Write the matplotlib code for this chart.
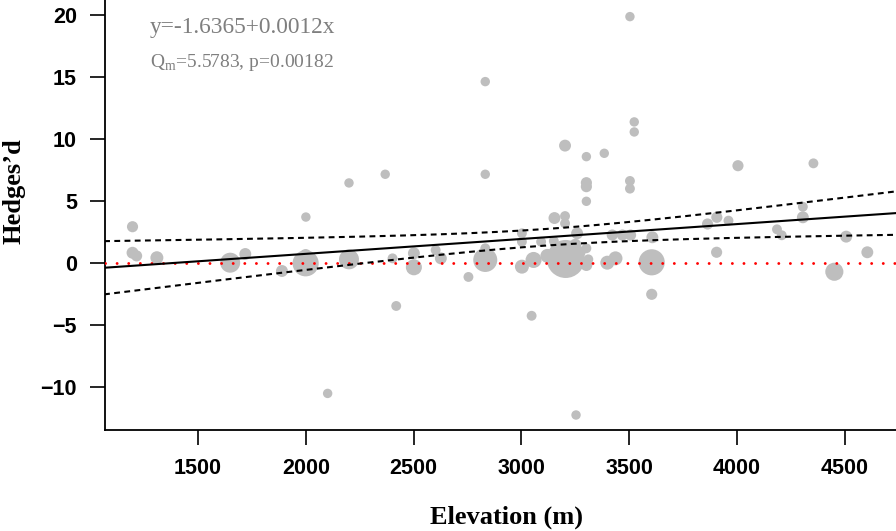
import numpy as np
import matplotlib
matplotlib.use("Agg")
import matplotlib.pyplot as plt

# ---------------- data ----------------
elevation = [1196, 1196, 1215, 1309, 1649, 1719, 1889, 2000, 1999, 1999,
             2101, 2200, 2200, 2368, 2402, 2419, 2501, 2501, 2602, 2626,
             2754, 2832, 2832, 2832, 2832, 3002, 3002, 3002, 3056, 3091,
             3153, 3202, 3202, 3202, 3205, 3258, 3301, 3384, 3301, 3301,
             3301, 3301, 3301, 3310, 3398, 3436, 3421, 3468, 3506, 3503,
             3523, 3523, 3503, 3503, 3607, 3604, 3604, 3047, 3253, 3863,
             3906, 3960, 3905, 4004, 4185, 4207, 4305, 4305, 4354, 4506,
             4451, 4604, 3150, 3250, 3120, 3270]
hedges_d = [2.95, 0.85, 0.60, 0.45, 0.05, 0.75, -0.62, 3.73, 0.67, 0.00,
            -10.49, 6.48, 0.32, 7.18, 0.40, -3.44, 0.81, -0.32, 1.07, 0.40,
            -1.10, 14.65, 7.18, 1.21, 0.27, 2.42, 1.74, -0.27, 0.27, 1.74,
            3.65, 3.81, 3.22, 9.49, 0.35, 2.42, 8.60, 8.87, 6.50, 6.18,
            5.00, 1.21, -0.14, 0.32, 0.05, 0.40, 2.28, 2.28, 2.28, 19.89,
            11.40, 10.59, 6.64, 6.02, 2.10, 0.08, -2.50, -4.23, -12.23, 3.17,
            3.71, 3.44, 0.89, 7.87, 2.74, 2.26, 4.56, 3.71, 8.06, 2.15,
            -0.68, 0.89, 1.80, 1.50, 0.60, 0.90]
# relative study weight (bubble area)
weight = [1.4, 1.6, 1.4, 1.9, 4.5, 1.6, 1.6, 1.0, 1.6, 7.7,
          1.0, 1.0, 4.5, 1.0, 1.1, 1.1, 1.6, 2.9, 1.1, 1.6,
          1.1, 1.0, 1.0, 1.1, 6.5, 1.1, 1.1, 2.2, 2.9, 1.1,
          1.6, 1.1, 1.1, 1.6, 16.3, 1.6, 1.0, 1.0, 1.4, 1.4,
          1.0, 1.1, 1.6, 1.1, 2.2, 2.2, 1.4, 1.4, 1.4, 1.0,
          1.0, 1.0, 1.1, 1.1, 1.6, 7.7, 1.4, 1.1, 1.0, 1.4,
          1.4, 1.1, 1.4, 1.4, 1.1, 1.1, 1.1, 1.6, 1.1, 1.6,
          3.7, 1.6, 1.1, 1.6, 2.2, 1.6]

# meta-regression results
intercept = -1.6365
slope = 0.0012
Qm = 5.5783
p_value = 0.00182
x_center = 3112      # elevation where the CI is narrowest
se_center = 0.341    # standard error of prediction at x_center

x_ticks = [1500, 2000, 2500, 3000, 3500, 4000, 4500]
y_ticks = [-10, -5, 0, 5, 10, 15, 20]
x_lim = (1067, 4737)
y_lim = (-13.44, 21.23)

# ---------------- plot ----------------
W, H = 896, 531
fig = plt.figure(figsize=(W / 100, H / 100), dpi=100)
ax = fig.add_axes([104.7 / W, (H - 430) / H, (W - 104.7) / W, 430 / H])

ax.set_xlim(*x_lim)
ax.set_ylim(*y_lim)

sizes = 46 * np.asarray(weight)
ax.scatter(elevation, hedges_d, s=sizes, c="#BEBEBE", edgecolors="none",
           zorder=2)

xs = np.linspace(x_lim[0] - 50, x_lim[1] + 50, 400)
se_slope = slope / np.sqrt(Qm)
pred = intercept + slope * xs
se = np.sqrt(se_center ** 2 + (se_slope * (xs - x_center)) ** 2)
ax.plot(xs, pred, color="black", lw=1.5, zorder=4)
ax.plot(xs, pred + 1.96 * se, color="black", lw=1.5,
        linestyle=(0, (2.8, 2.1)), zorder=4)
ax.plot(xs, pred - 1.96 * se, color="black", lw=1.5,
        linestyle=(0, (2.8, 2.1)), zorder=4)

ax.plot([x_lim[0], x_lim[1] + 50], [0, 0], color="#FF0000", lw=2.1,
        linestyle=(0, (0.01, 3.97)), dash_capstyle="round", zorder=3)

for s in ["top", "right"]:
    ax.spines[s].set_visible(False)
for s in ["left", "bottom"]:
    ax.spines[s].set_linewidth(1.3)

tick_font = dict(family=["Liberation Sans", "DejaVu Sans"], weight="bold",
                 size=15.5)
ax.set_xticks(x_ticks)
ax.set_yticks(y_ticks)
ax.set_xticklabels([str(v) for v in x_ticks], fontdict=tick_font)
ax.set_yticklabels([str(v).replace("-", "\u2212") for v in y_ticks],
                   fontdict=tick_font)
ax.tick_params(axis="both", direction="out", length=10.5, width=1.2,
               pad=9.5)

label_font = dict(family=["Liberation Serif", "DejaVu Serif"],
                  weight="bold", size=19)
ax.set_xlabel("Elevation (m)", fontdict=label_font)
ax.set_ylabel("Hedges\u2019d", fontdict=label_font)
ax.xaxis.set_label_coords(0.508, -0.202)
ax.yaxis.set_label_coords(-0.1145, 0.555)
ax.xaxis.label.set_va("center")
ax.yaxis.label.set_va("center")

plt.rcParams["mathtext.fontset"] = "custom"
plt.rcParams["mathtext.rm"] = "Liberation Serif"
txt_font = dict(family=["Liberation Serif", "DejaVu Serif"], color="#7F7F7F")
fig.text(150 / W, (H - 33) / H,
         f"y={intercept}+{slope}x", fontsize=16.8, va="baseline", ha="left",
         **txt_font)
fig.text(150 / W, (H - 67) / H,
         r"Q$_{\mathrm{m}}$" + f"={Qm}, p={p_value}", fontsize=14,
         va="baseline", ha="left", **txt_font)

fig.savefig("out.png", dpi=100)
